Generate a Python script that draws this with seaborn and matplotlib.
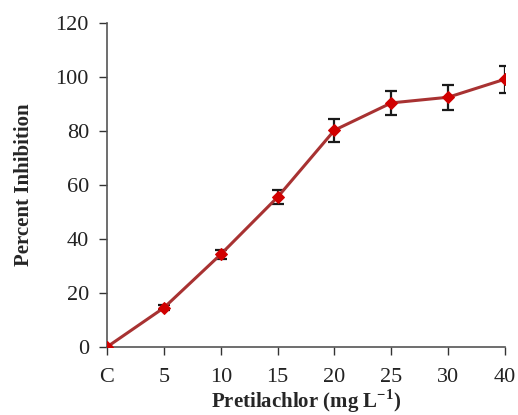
import matplotlib
matplotlib.use("Agg")
import matplotlib.pyplot as plt
import seaborn as sns
import pandas as pd

categories = ["C", "5", "10", "15", "20", "25", "30", "40"]
inhibition = [0, 14.5, 34.3, 55.5, 80.3, 90.4, 92.5, 99.2]
errors = [0, 1.0, 1.6, 2.6, 4.2, 4.5, 4.6, 5.0]

sns.set_style("ticks")
plt.rcParams["font.family"] = ["Liberation Serif", "DejaVu Serif"]
plt.rcParams["mathtext.fontset"] = "custom"
plt.rcParams["mathtext.rm"] = "Liberation Serif"
plt.rcParams["mathtext.bf"] = "Liberation Serif:bold"

df = pd.DataFrame({"conc": categories, "inh": inhibition})

fig = plt.figure(figsize=(5.18, 4.15), dpi=100)
ax = fig.add_axes([0.2066, 0.164, 0.7685, 0.7806])

ax.errorbar(categories, inhibition, yerr=errors, fmt="none", ecolor="#1a1a1a",
            elinewidth=1.6, capsize=4, capthick=1.6, zorder=2)
sns.lineplot(data=df, x="conc", y="inh", ax=ax, color="#a83232", linewidth=2.2,
             marker="D", markersize=6, markerfacecolor="#d10000",
             markeredgecolor="#d10000", sort=False, zorder=3)

ax.set_xlim(0, 7)
ax.set_ylim(0, 120)
ax.set_yticks([0, 20, 40, 60, 80, 100, 120])
ax.tick_params(axis="both", labelsize=16, direction="out", length=6, width=1, colors="#333333")
for lab in ax.get_xticklabels() + ax.get_yticklabels():
    lab.set_color("#222222")
ax.tick_params(axis="x", pad=9)
ax.tick_params(axis="y", pad=7)
sns.despine(ax=ax)
for s in ["left", "bottom"]:
    ax.spines[s].set_color("#555555")
    ax.spines[s].set_linewidth(1.2)

ax.set_xlabel(r"Pretilachlor (mg L$^{\mathbf{-1}}$)", fontsize=15, fontweight="bold")
ax.set_ylabel("Percent Inhibition", fontsize=15, fontweight="bold")
ax.xaxis.set_label_coords(0.5, -0.125)
ax.yaxis.set_label_coords(-0.184, 0.5)

fig.savefig("out.png", dpi=100)
